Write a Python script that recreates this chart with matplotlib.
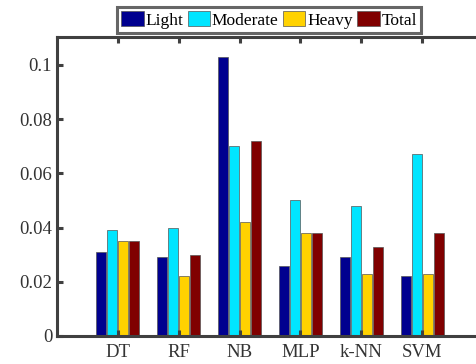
import numpy as np
import matplotlib.pyplot as plt

# ---------------- DATA ----------------

models = ["DT", "RF", "NB", "MLP", "k-NN", "SVM"]
light = [0.031, 0.029, 0.103, 0.026, 0.029, 0.022]
moderate = [0.039, 0.040, 0.070, 0.050, 0.048, 0.067]
heavy = [0.035, 0.022, 0.042, 0.038, 0.023, 0.023]
total = [0.035, 0.030, 0.072, 0.038, 0.033, 0.038]

series = [
    ("Light", light, "#00008f"),
    ("Moderate", moderate, "#00e5ff"),
    ("Heavy", heavy, "#ffd200"),
    ("Total", total, "#800000"),
]

# --------------------------------------

plt.rcParams["font.family"] = ["Liberation Serif", "DejaVu Serif"]

fig = plt.figure(figsize=(4.77, 3.64), dpi=100)
# the axes box is open on the right; it runs to the figure edge
ax = fig.add_axes([57 / 477, 28 / 364, 420 / 477, 299 / 364])

x = np.arange(1, len(models) + 1)
width = 0.165
step = 0.18
for i, (name, vals, color) in enumerate(series):
    ax.bar(x + (i - 1.5) * step, vals, width, color=color, label=name,
           edgecolor="#555555", linewidth=0.5)

ax.set_xlim(0, 6.9)
ax.set_ylim(0, 0.1103)
ax.set_xticks(x)
ax.set_xticklabels(models)
ax.set_yticks([0, 0.02, 0.04, 0.06, 0.08, 0.1])
ax.set_yticklabels(["0", "0.02", "0.04", "0.06", "0.08", "0.1"])

for side in ax.spines.values():
    side.set_linewidth(2.2)
    side.set_color("#404040")
ax.spines["right"].set_visible(False)

ax.tick_params(direction="in", length=4, width=2.2, color="#404040",
               labelsize=13.5, labelcolor="#333333", top=True, right=False)
ax.tick_params(axis="x", pad=6)

leg = ax.legend(loc="lower center", bbox_to_anchor=(269 / 477, 1 - 33 / 364),
                bbox_transform=fig.transFigure, ncol=4,
                fontsize=12.5, frameon=True, fancybox=False, handlelength=1.3,
                handleheight=1.0, handletextpad=0.1, columnspacing=0.25,
                borderpad=0.25, borderaxespad=0.0)
leg.get_frame().set_edgecolor("#404040")
leg.get_frame().set_linewidth(2.2)

fig.savefig("out.png", dpi=100)
